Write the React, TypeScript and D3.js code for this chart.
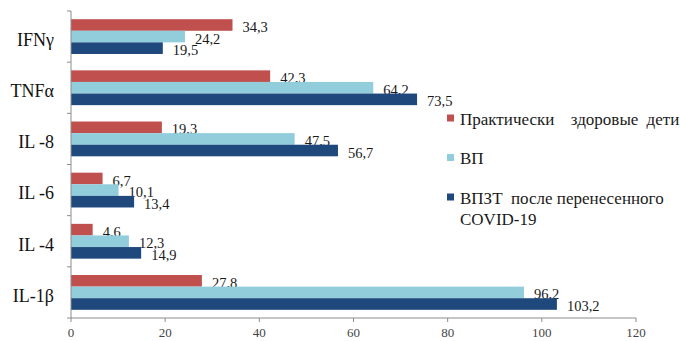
import * as d3 from 'd3'
import React from 'react'

const categories = ['IFNγ', 'TNFα', 'IL -8', 'IL -6', 'IL -4', 'IL-1β']
const healthy = [34.3, 42.3, 19.3, 6.7, 4.6, 27.8]
const vp = [24.2, 64.2, 47.5, 10.1, 12.3, 96.2]
const vpzt = [19.5, 73.5, 56.7, 13.4, 14.9, 103.2]
const seriesNames = ['Практически  здоровые дети', 'ВП', 'ВПЗТ  после перенесенного']
const xTicks = [0, 20, 40, 60, 80, 100, 120]

const colors = ['#C0504D', '#92CDDC', '#1F497D']
const font = "'Liberation Serif'"

export default function App() {
    const width = 680, height = 341
    const left = 71, right = 636, top = 11, bottom = 318

    let x = d3.scaleLinear().domain([0, 120]).range([left, right])
    let y = d3.scaleBand().domain(categories).range([top, bottom]).paddingInner(0.32).paddingOuter(0.16)
    let inner = d3.scaleBand().domain(['0', '1', '2']).range([0, y.bandwidth()])
    const allSeries = [healthy, vp, vpzt]
    const step = (bottom - top) / categories.length
    const fmt = (v: number) => d3.format('.1f')(v).replace('.', ',')

    return (
        <svg width={width} height={height} style={{position: 'absolute', left: 0, top: 0, background: '#fff'}}>
            {/* bars + value labels */}
            {allSeries.map((vals, si) => (
                <g key={si}>
                    {vals.map((v, i) => {
                        const by = y(categories[i])! + inner(String(si))!
                        const bh = inner.bandwidth()
                        return (
                            <g key={i}>
                                <rect x={x(0)} y={by} width={x(v) - x(0)} height={bh} fill={colors[si]} />
                                <text x={x(v) + 10} y={by + bh / 2 + 2} dy="0.35em" fontSize={14.5} fill="#1a1a1a"
                                    style={{fontFamily: font}}>
                                    {fmt(v)}
                                </text>
                            </g>
                        )
                    })}
                </g>
            ))}

            {/* y axis */}
            <line x1={left} x2={left} y1={top} y2={bottom} stroke="#8c8c8c" />
            {d3.range(categories.length + 1).map(i => (
                <line key={i} x1={left - 4} x2={left} y1={top + i * step} y2={top + i * step} stroke="#8c8c8c" />
            ))}
            {categories.map(c => (
                <text key={c} x={54} y={y(c)! + y.bandwidth() / 2 + 3} dy="0.35em" textAnchor="end"
                    fontSize={18} fill="#111" style={{fontFamily: font}}>{c}</text>
            ))}

            {/* x axis */}
            <line x1={left} x2={right} y1={bottom} y2={bottom} stroke="#8c8c8c" />
            {xTicks.map(t => (
                <g key={t}>
                    <line x1={x(t)} x2={x(t)} y1={bottom} y2={bottom + 4} stroke="#8c8c8c" />
                    <text x={x(t)} y={332} dy="0.35em" textAnchor="middle" fontSize={13} fill="#444"
                        style={{fontFamily: font}}>{t}</text>
                </g>
            ))}

            {/* legend */}
            {seriesNames.map((name, i) => {
                const ly = 118 + i * 39.5
                return (
                    <g key={name}>
                        <rect x={447} y={ly - 3.5} width={7} height={7} fill={colors[i]} />
                        <text x={460} y={ly + 1} dy="0.35em" fontSize={17} fill="#1a1a1a"
                            style={{whiteSpace: 'pre', fontFamily: font, wordSpacing: i === 0 ? 4 : 0}}>{name}</text>
                        {i === 2 && <text x={460} y={ly + 22.5} dy="0.35em" fontSize={17} fill="#1a1a1a"
                            style={{fontFamily: font}}>COVID-19</text>}
                    </g>
                )
            })}
        </svg>
    )
}
